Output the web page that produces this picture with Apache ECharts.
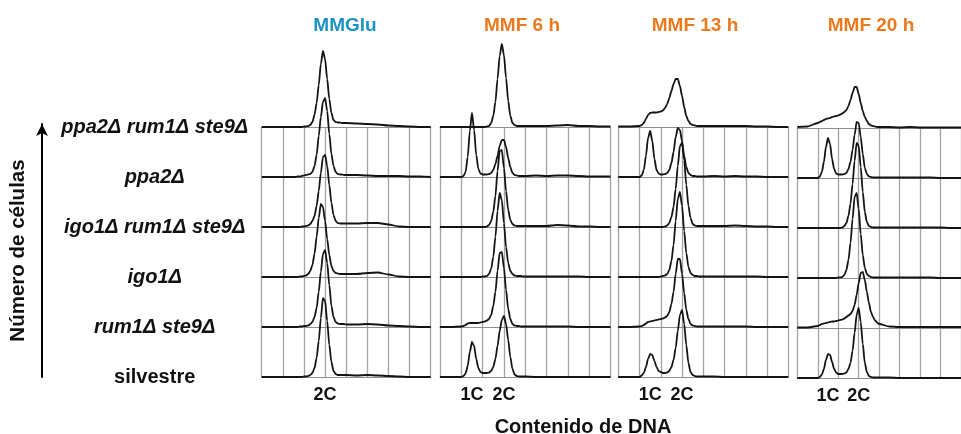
<!DOCTYPE html>
<html>
<head>
<meta charset="utf-8">
<script src="https://cdn.jsdelivr.net/npm/echarts@6/dist/echarts.min.js"></script>
<style>
  html, body { margin: 0; padding: 0; background: #fff; }
  #chart { width: 961px; height: 434px; }
</style>
</head>
<body>
<div id="chart"></div>
<script>
// =====================
// Data (DNA content in grid units, 2C = 3, 1C = 1.5; counts in arbitrary units)
// =====================
const DNA = [0, 0.5, 1.0,
  1.1, 1.2, 1.3, 1.4, 1.5, 1.6, 1.7, 1.8, 1.9, 2.0,
  2.1, 2.2, 2.3, 2.4, 2.5, 2.6, 2.7, 2.8, 2.9, 3.0,
  3.1, 3.2, 3.3, 3.4, 3.5, 3.6, 3.7, 3.8, 3.9, 4.0,
  4.5, 5.0, 5.5, 6.0, 6.5, 7.0, 7.5, 8.0]

const ROWS = ["ppa2Δ rum1Δ ste9Δ", "ppa2Δ", "igo1Δ rum1Δ ste9Δ", "igo1Δ", "rum1Δ ste9Δ", "silvestre"]
const PANELS = ["MMGlu", "MMF 6 h", "MMF 13 h", "MMF 20 h"]
const PANEL_COLORS = ["#1a93c4", "#ea7a1f", "#ea7a1f", "#ea7a1f"]
const PEAK_TICKS = [[3], [1.5, 3], [1.5, 3], [1.5, 3]]
const PEAK_NAMES = { 1.5: "1C", 3: "2C" }

const MMGLU = [
  [0,0,0, 0,0,0,0,0,0,0,0,0,0.5, 0.5,1,2,5,12,24,42,63,76,68, 48,28,14,7,5,4.5,4.5,4,4,4, 3.5,3,2.5,1.5,1,0.5,0,0],
  [0,0,0, 0,0,0,0,0,0,0.5,0.5,1,1.5, 2,2.5,3,5,11,22,41,60,75,79, 66,43,23,11,5,3,2.5,2.5,2,2, 2,1.5,1,1,1,0.5,0.5,0],
  [0,0,0, 0,0,0,0,0,0,0,0,0.5,0.5, 1,1.5,3,6,11,21,36,54,70,72, 61,42,24,12,6,4,3.5,3.5,3.5,3.5, 3.5,4,4,2.5,0.5,0,0,0],
  [0,0,0, 0,0,0,0,0,0,0,0.5,0.5,1, 1.5,3,6,12,23,40,59,73,70,56, 38,22,11,6,4,3.5,3,3,3,3, 3,4,4.5,2.5,0.5,0,0,0],
  [0,0,0, 0,0,0,0,0,0,0,0.5,0.5,1, 1,1.5,3,5,10,19,35,55,73,77, 64,42,21,10,5,3.5,3,3,3,2.5, 2.5,3,2.5,1.5,1,0.5,0,0],
  [0,0,0, 0,0,0,0,0,0,0,0,0,0.5, 0.5,1,2,4,9,19,36,59,79,76, 56,32,15,6,3,2,2,2,2,2, 1.5,2,1.5,1,0.5,0,0,0]
]

const MMF6 = [
  [0,0,0, 0,0,0,0,0,0,0,0,0,0, 0,0.5,1,4,11,25,48,71,83,72, 49,26,11,4,2,1,1,1,1,1, 1,1,1.5,2,1,1,0.5,0.5],
  [0,0,0, 1,5,20,46,64,47,22,8,3.5,2.5, 2.5,2.5,3,4,7,13,21,31,37,37, 30,19,10,4,2,1.5,1,1,1,1, 1.5,1,1.5,1.5,1,0.5,0.5,0.5],
  [0,0,0, 0,0,0,0,0,0,0,0,0,0, 0,0.5,2,6,15,31,56,76,77,59, 36,17,7,3,1.5,1,1,1,1,1, 1,1,2,1.5,0.5,0.5,0,0],
  [0,0,0, 0,0,0,0,0,0,0,0,0,0.5, 0.5,1,3,8,20,40,66,84,77,54, 30,14,6,3,1.5,1,1,1,0.5,0.5, 0.5,0.5,0.5,0.5,0.5,0,0,0],
  [0,0,0.5, 1,2,3.5,4,4,4,4,4,4.5,5, 5.5,6.5,8,12,21,35,56,74,75,59, 37,18,8,3,1.5,1,1,0.5,0.5,0.5, 0.5,0.5,0.5,0.5,0,0,0,0],
  [0,0,0, 1,3.5,11,25,35,31,18,9,5,4, 4,4,4.5,6,10,18,31,46,57,61, 53,37,20,8,2.5,1,0.5,0.5,0.5,0.5, 0,0,0,0,0,0,0,0]
]

const MMF13 = [
  [0.5,0.5,1, 2,4,8,12,14,14.5,14.5,14.5,15,15.5, 16.5,19,23,29,36,43,48,48,41,31, 20,11,6,3,2,1.5,1,1,1,1, 1,1,1,1,0.5,0.5,0,0],
  [0,0,0, 1.5,7,21,39,46,36,18,7,3.5,2.5, 2.5,3,4,7,14,25,40,49,47,36, 21,10,4,2,1,1,0.5,0.5,0.5,0.5, 1,0.5,1,0.5,0.5,0,0,0],
  [0,0,0, 0,0,0,0,0,0,0,0,0,0, 0,0.5,1.5,4,10,20,38,61,81,84, 67,42,21,9,3,1.5,1,1,1,1, 1,1,1.5,1,0.5,0.5,0,0],
  [0,0,0, 0,0,0,0,0,0,0,0,0,0.5, 1,1.5,3,7,16,32,56,78,85,71, 46,24,10,4,2,1,1,0.5,0.5,0.5, 0.5,0.5,0.5,0.5,0.5,0,0,0],
  [0,0,0.5, 1,2,3.5,5,5.5,6,6.5,7,7.5,8, 8.5,9.5,11,15,23,35,53,68,68,53, 34,17,8,3,1.5,1,0.5,0.5,0.5,0.5, 0.5,0.5,0.5,0.5,0,0,0,0],
  [0,0,0, 1.5,4,10,18,23,22,16,10,6,5, 4,4,4.5,6,10,17,29,46,62,67, 53,32,14,5,2,1,0.5,0.5,0.5,0.5, 0.5,0,0,0,0,0,0,0]
]

const MMF20 = [
  [1,1.5,5, 6,7,8,9,9.5,10,11,11.5,12,12.5, 13.5,14.5,16,18,22,28,35,41,41,34, 25,17,11,7,4,2.5,2,1.5,1,1, 1,0.5,1,0.5,0.5,0.5,0.5,0.5],
  [0,0,0, 1.5,6,16,31,40,34,19,9,4.5,3.5, 3.5,3.5,4,5,9,16,28,43,56,55, 41,24,10,4,1.5,1,0.5,0.5,0.5,0.5, 0.5,0.5,0.5,0.5,0.5,0,0,0],
  [0,0,0, 0,0,0,0,0,0,0,0,0,0, 0,0.5,2,5,12,24,44,67,85,82, 61,36,16,6,2,1,0.5,0.5,0.5,0.5, 0.5,0.5,0.5,0.5,0.5,0.5,0,0],
  [0,0,0, 0,0,0,0,0,0,0,0,0,0.5, 0.5,1,3,8,18,35,59,81,85,69, 44,23,10,4,2,1,0.5,0.5,0.5,0.5, 0.5,0.5,0.5,0.5,0.5,0,0,0],
  [0.5,0.5,2, 3,4,4.5,5,5.5,6,6.5,6.5,7,7.5, 8,8.5,9.5,11,12.5,14,17,23,33,45, 55,56,48,36,25,16,11,7.5,5.5,4, 1.5,1,1,1,1,1,1,1],
  [0,0,0, 1,3.5,9,18,24,23,16,9,5.5,4, 4,4,4.5,5.5,9,15,27,45,63,70, 56,34,15,6,2,1,0.5,0.5,0.5,0.5, 0.5,0,0,0,0,0,0,0]
]

const PANEL_DATA = [MMGLU, MMF6, MMF13, MMF20]

// =====================
// Layout
// =====================
const FONT = "'Liberation Sans', Arial, Helvetica, sans-serif"
const PANEL_LEFT = [261.7, 440, 618.3, 797.3]
const PANEL_WIDTH = [169, 170.5, 170, 170]
const PANEL_DROP = [0, 0, 0, 1]
const BASE = [127, 177, 227, 277, 327, 377]
const ROW_H = 100   // px of one row grid, y max = ROW_H

const grids = []
const xAxes = []
const yAxes = []
const series = []

function hiddenY(gi) {
  return { gridIndex: gi, type: "value", min: 0, max: ROW_H, show: false }
}

PANELS.forEach((name, p) => {
  const left = PANEL_LEFT[p]
  const width = PANEL_WIDTH[p]
  const drop = PANEL_DROP[p]

  // background grid: vertical lines
  grids.push({ left, width, top: BASE[0] + drop, height: BASE[5] - BASE[0] })
  let gi = grids.length - 1
  xAxes.push({
    gridIndex: gi, type: "value", min: 0, max: 8, interval: 1,
    axisLine: { show: false }, axisTick: { show: false }, axisLabel: { show: false },
    splitLine: { show: true, lineStyle: { color: "#a3a3a3", width: 1.3 } }
  })
  if (p === 0) {
    yAxes.push({
      gridIndex: gi, type: "category", data: ROWS, inverse: true, boundaryGap: false,
      axisLine: { show: false }, axisTick: { show: false }, splitLine: { show: false },
      axisLabel: {
        margin: 107, align: "center",
        formatter: v => v === "silvestre" ? `{n|${v}}` : `{i|${v}}`,
        rich: {
          i: { fontFamily: FONT, fontSize: 20, fontWeight: "bold", fontStyle: "italic", color: "#111" },
          n: { fontFamily: FONT, fontSize: 20, fontWeight: "bold", color: "#111" }
        }
      }
    })
  } else {
    yAxes.push(hiddenY(gi))
  }

  // one grid per strain row
  ROWS.forEach((row, r) => {
    grids.push({ left, width, top: BASE[r] + drop - ROW_H, height: ROW_H })
    gi = grids.length - 1
    const last = r === ROWS.length - 1
    xAxes.push({
      gridIndex: gi, type: "value", min: 0, max: 8,
      axisLine: { show: true, lineStyle: { color: "#8f8f8f", width: 1.2 } },
      axisTick: { show: false },
      splitLine: { show: false },
      axisLabel: last ? {
        show: true, customValues: PEAK_TICKS[p], margin: 9,
        formatter: v => PEAK_NAMES[v],
        fontFamily: FONT, fontSize: 18, fontWeight: "bold", color: "#111"
      } : { show: false }
    })
    yAxes.push(hiddenY(gi))

    const vals = PANEL_DATA[p][r]
    series.push({
      name: `${name} ${row}`,
      type: "line",
      xAxisIndex: gi,
      yAxisIndex: gi,
      data: DNA.map((x, i) => [x, vals[i]]),
      showSymbol: false,
      smooth: 0.25,
      smoothMonotone: "x",
      lineStyle: { color: "#141414", width: 1.8 },
      silent: true
    })
  })
})

// arrow axis for "Número de células"
grids.push({ left: 42, width: 1, top: 124, height: 253 })
const ai = grids.length - 1
xAxes.push({ gridIndex: ai, type: "value", show: false })
yAxes.push({
  gridIndex: ai, type: "value", min: 0, max: 1,
  axisLine: { show: true, symbol: ["none", "arrow"], symbolSize: [9, 12], lineStyle: { color: "#000", width: 2 } },
  axisTick: { show: false }, axisLabel: { show: false }, splitLine: { show: false },
  name: "Número de células", nameLocation: "middle", nameGap: 13,
  nameTextStyle: { fontFamily: FONT, fontSize: 20.5, fontWeight: "bold", color: "#111" }
})

const PANEL_CENTER = [340, 517, 690, 866]

const titles = PANELS.map((name, p) => ({
  text: name,
  left: PANEL_CENTER[p],
  top: 11,
  textAlign: "center",
  textStyle: { fontFamily: FONT, fontSize: 19, fontWeight: "bold", color: PANEL_COLORS[p] }
}))
titles.push({
  text: "Contenido de DNA",
  left: 578,
  top: 412,
  textAlign: "center",
  textStyle: { fontFamily: FONT, fontSize: 20, fontWeight: "bold", color: "#111" }
})

const chart = echarts.init(document.getElementById("chart"))
chart.setOption({
  animation: false,
  backgroundColor: "#fff",
  title: titles,
  grid: grids,
  xAxis: xAxes,
  yAxis: yAxes,
  series
})
</script>
</body>
</html>
